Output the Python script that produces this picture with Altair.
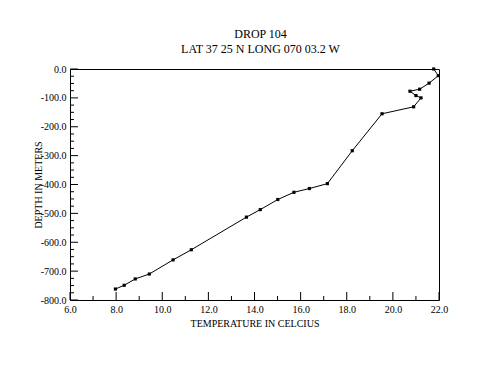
import altair as alt
import pandas as pd

# Data
temperature = [21.77, 21.97, 21.57, 21.16, 20.74, 21.00, 21.22, 20.90, 19.53, 18.24,
               17.16, 16.38, 15.71, 15.01, 14.25, 13.65, 11.26, 10.47, 9.44, 8.83,
               8.35, 7.97]
depth = [0, -23, -49, -70, -77, -92, -100, -131, -155, -283,
         -397, -414, -427, -452, -487, -513, -626, -661, -710, -727,
         -749, -762]

x_major = [6, 8, 10, 12, 14, 16, 18, 20, 22]
x_minor = [7, 9, 11, 13, 15, 17, 19, 21]
y_major = [0, -100, -200, -300, -400, -500, -600, -700, -800]
y_minor = [v for v in range(0, -801, -25) if v % 100 != 0]

title_lines = ["DROP 104", "LAT 37 25 N LONG 070 03.2 W"]

df = pd.DataFrame({"t": temperature, "d": depth, "i": list(range(len(depth)))})
xm = pd.DataFrame({"t": x_major})
xn = pd.DataFrame({"t": x_minor})
ym = pd.DataFrame({"d": y_major})
yn = pd.DataFrame({"d": y_minor})

W, H = 369, 231
FONT = "Liberation Serif"

xs = alt.Scale(domain=[6, 22], nice=False, zero=False)
ys = alt.Scale(domain=[-800, 0], nice=False, zero=False)

lbl = "replace(format(datum.value, '.1f'), '\u2212', '-')"

xaxis = alt.Axis(values=x_major, labelExpr=lbl, tickSize=0, domain=False, grid=False,
                 labelFont=FONT, labelFontSize=10, labelColor="black", labelPadding=4,
                 title="TEMPERATURE IN CELCIUS", titleFont=FONT, titleFontSize=10,
                 titleFontWeight="normal", titleColor="black", titlePadding=4,
                 labelFlush=False, labelOverlap=False)
yaxis = alt.Axis(values=y_major, labelExpr=lbl, tickSize=0, domain=False, grid=False,
                 labelFont=FONT, labelFontSize=10, labelColor="black", labelPadding=4,
                 title="DEPTH IN METERS", titleFont=FONT, titleFontSize=10,
                 titleFontWeight="normal", titleColor="black", titleX=-29,
                 titleY=H / 2, titleBaseline="alphabetic", labelFlush=False,
                 labelOverlap=False)

X = alt.X("t:Q", scale=xs, axis=xaxis)
Y = alt.Y("d:Q", scale=ys, axis=yaxis)

line = alt.Chart(df).mark_line(color="black", strokeWidth=1).encode(
    x=X, y=Y, order="i:Q",
)
pts = alt.Chart(df).mark_square(color="black", size=10, opacity=1).encode(x=X, y=Y)

xt_major = alt.Chart(xm).mark_rule(color="black", strokeWidth=1).encode(
    x=X, y=alt.value(H), y2=alt.value(H - 8))
xt_minor = alt.Chart(xn).mark_rule(color="black", strokeWidth=1).encode(
    x=X, y=alt.value(H), y2=alt.value(H - 4))
yt_major = alt.Chart(ym).mark_rule(color="black", strokeWidth=1).encode(
    y=Y, x=alt.value(0), x2=alt.value(8))
yt_minor = alt.Chart(yn).mark_rule(color="black", strokeWidth=1).encode(
    y=Y, x=alt.value(0), x2=alt.value(4))

chart = alt.layer(line, pts, xt_major, xt_minor, yt_major, yt_minor).properties(
    width=W, height=H,
    autosize=alt.AutoSizeParams(type="none"),
    padding={"left": 62, "top": 61, "right": 50, "bottom": 70},
    background="white",
    title=alt.TitleParams(text=title_lines, font=FONT, fontSize=12, fontWeight="normal",
                          color="black", anchor="middle", dx=6, offset=8, lineHeight=15),
).configure_view(stroke="black", strokeWidth=1)

chart.save("out.html", embed_options={"renderer": "svg", "actions": False})
